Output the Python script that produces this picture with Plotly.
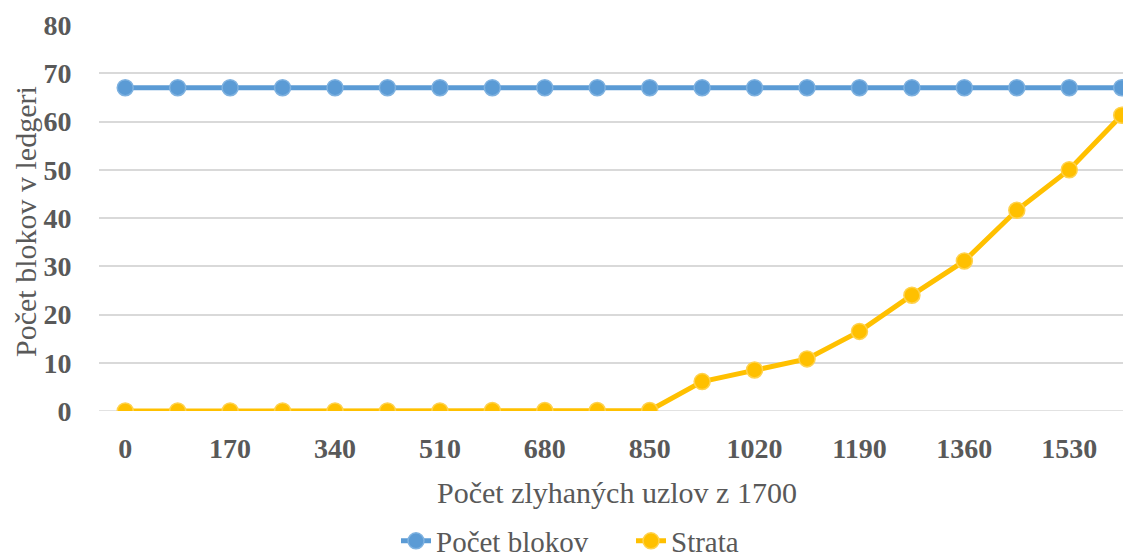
import plotly.graph_objects as go

# x categories: number of failed nodes out of 1700
uzly = [0, 85, 170, 255, 340, 425, 510, 595, 680, 765, 850,
        935, 1020, 1105, 1190, 1275, 1360, 1445, 1530, 1615]
pocet_blokov = [67] * 20
strata = [0, 0, 0, 0, 0, 0, 0, 0.1, 0.1, 0.1, 0.1,
          6.1, 8.5, 10.8, 16.5, 24.0, 31.1, 41.6, 50.0, 61.3]
x_ticks = [0, 170, 340, 510, 680, 850, 1020, 1190, 1360, 1530]

kategorie = [str(v) for v in uzly]
tick_text = [str(v) for v in x_ticks]

SERIF = "Liberation Serif, Times New Roman, serif"
GRAY = "#595959"
W, H = 1131, 557
OFF = 8  # page body margin
L, T, BOT = 99 - OFF, 25 - OFF, 411 - OFF
PLOT_W, PLOT_H = W - L, BOT - T


def px_x(x):
    return (x - OFF - L) / PLOT_W


def px_y(y):
    return (BOT - (y - OFF)) / PLOT_H


fig = go.Figure()
fig.add_trace(go.Scatter(
    x=kategorie, y=pocet_blokov, mode="lines+markers", name="Počet blokov",
    line=dict(color="#5B9BD5", width=5),
    marker=dict(size=16, color="#5B9BD5", line=dict(color="#7FB2E0", width=1.5))
))
fig.add_trace(go.Scatter(
    x=kategorie, y=strata, mode="lines+markers", name="Strata",
    line=dict(color="#FFC000", width=5),
    marker=dict(size=16, color="#FFC000", line=dict(color="#FFD24D", width=1.5))
))

fig.update_layout(
    width=W, height=H,
    margin=dict(l=L, r=0, t=T, b=H - BOT),
    plot_bgcolor="white", paper_bgcolor="white",
    font=dict(family=SERIF, color=GRAY),
    showlegend=True,
    legend=dict(orientation="h", x=px_x(631), xanchor="center",
                yref="container", y=(H - (541 - OFF)) / H, yanchor="middle",
                font=dict(size=29, color=GRAY), entrywidth=190, entrywidthmode="pixels"),
    xaxis=dict(
        type="category", range=[-0.5, 19.33], automargin=False,
        tickmode="array", tickvals=tick_text, ticktext=tick_text,
        tickfont=dict(size=28, color=GRAY, family=SERIF, weight="bold"),
        showgrid=False, zeroline=False, showline=False,
        ticks="outside", ticklen=12, tickcolor="rgba(0,0,0,0)",
    ),
    yaxis=dict(
        range=[0, 80], dtick=10, automargin=False,
        tickfont=dict(size=28, color=GRAY, family=SERIF, weight="bold"),
        gridcolor="#D9D9D9", gridwidth=1.5, zeroline=False, showline=False,
        ticks="outside", ticklen=21, tickcolor="rgba(0,0,0,0)",
    ),
    annotations=[
        dict(text="Počet zlyhaných uzlov z 1700", xref="paper", yref="paper",
             x=px_x(617), y=px_y(492), showarrow=False,
             xanchor="center", yanchor="middle", font=dict(size=30, color=GRAY)),
        dict(text="Počet blokov v ledgeri", xref="paper", yref="paper",
             x=px_x(25), y=px_y(222), showarrow=False, textangle=-90,
             xanchor="center", yanchor="middle", font=dict(size=30, color=GRAY)),
    ],
)
fig.add_hline(y=0, line=dict(color="#D9D9D9", width=1.5), layer="below")

fig.write_html("out.html")
